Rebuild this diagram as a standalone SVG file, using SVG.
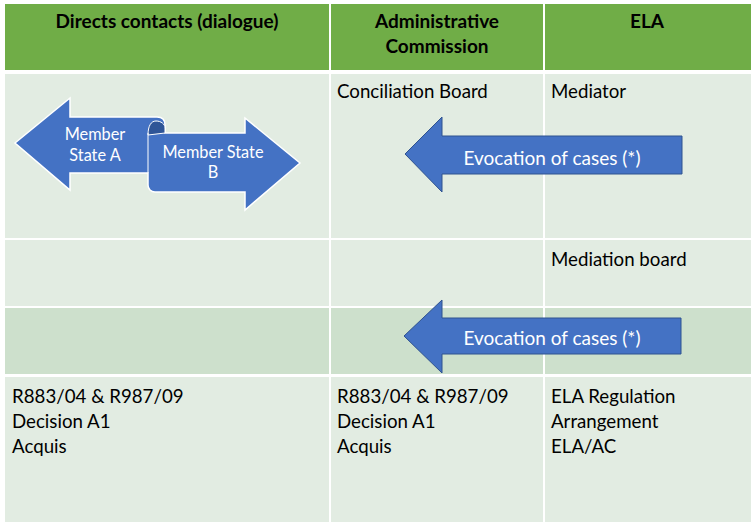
<svg xmlns="http://www.w3.org/2000/svg" width="751" height="522" viewBox="0 0 751 522">
<style>
.hdr{fill:#70AD47}
.lt{fill:#E2ECE2}
.dk{fill:#CDE0CC}
text{font-family:Lato,"Noto Sans",sans-serif;font-size:18.7px;fill:#000}
.b{font-weight:bold;text-anchor:middle;font-size:19px}
.w{fill:#fff;text-anchor:middle}
.ev{font-size:19px}
.ms{font-size:16.3px}
.arrow{fill:#4472C4;stroke:#2F528F;stroke-width:1}
</style>
<rect width="751" height="522" fill="#fff"/>
<g id="table">
<rect class="hdr" x="5" y="4" width="324" height="66"/>
<rect class="hdr" x="331" y="4" width="212" height="66"/>
<rect class="hdr" x="545" y="4" width="206" height="66"/>
<rect class="lt" x="5" y="74" width="324" height="164"/>
<rect class="lt" x="331" y="74" width="212" height="164"/>
<rect class="lt" x="545" y="74" width="206" height="164"/>
<rect class="lt" x="5" y="240" width="324" height="66"/>
<rect class="lt" x="331" y="240" width="212" height="66"/>
<rect class="lt" x="545" y="240" width="206" height="66"/>
<rect class="dk" x="5" y="308" width="324" height="66"/>
<rect class="dk" x="331" y="308" width="212" height="66"/>
<rect class="dk" x="545" y="308" width="206" height="66"/>
<rect class="lt" x="5" y="377" width="324" height="145"/>
<rect class="lt" x="331" y="377" width="212" height="145"/>
<rect class="lt" x="545" y="377" width="206" height="145"/>
</g>
<g id="headers">
<text class="b" x="167" y="28">Directs contacts (dialogue)</text>
<text class="b" x="437" y="28">Administrative</text>
<text class="b" x="437" y="53">Commission</text>
<text class="b" x="647" y="28">ELA</text>
</g>
<g id="cells">
<text x="337" y="98">Conciliation Board</text>
<text x="551" y="98">Mediator</text>
<text x="551" y="266">Mediation board</text>
<text x="12" y="403">R883/04 &amp; R987/09</text>
<text x="12" y="428">Decision A1</text>
<text x="12" y="453">Acquis</text>
<text x="337" y="403">R883/04 &amp; R987/09</text>
<text x="337" y="428">Decision A1</text>
<text x="337" y="453">Acquis</text>
<text x="551" y="403">ELA Regulation</text>
<text x="551" y="428">Arrangement</text>
<text x="551" y="453">ELA/AC</text>
</g>
<g id="ribbon">
<path d="M15,143 L70,98 L70,117 L157,117 C162,117 165,120 165,125 L165,133 L245,133 L245,118 L300,163 L245,210 L245,192 L155,192 C151,192 148,189 148,185 L148,173 L70,173 L70,190 Z" fill="#4472C4" stroke="#fff" stroke-width="1.5"/>
<path d="M148,135 C148,126 151,121 156,121 C161,121 165,124 165,128 L165,133 Z" fill="#2F5597" stroke="#fff" stroke-width="1"/>
<line x1="148" y1="133" x2="148" y2="173" stroke="#fff" stroke-width="1"/>
<text class="w ms" x="95" y="140">Member</text>
<text class="w ms" x="95" y="161">State A</text>
<text class="w ms" x="213" y="158">Member State</text>
<text class="w ms" x="213" y="178">B</text>
</g>
<g id="connectors">
<path class="arrow" d="M405,154 L442,117 L442,136 L682,136 L682,174 L442,174 L442,192 Z"/>
<text class="w ev" x="552" y="165">Evocation of cases (*)</text>
<path class="arrow" d="M404,336 L442,300 L442,318 L681,318 L681,354 L442,354 L442,373 Z"/>
<text class="w ev" x="552" y="345">Evocation of cases (*)</text>
</g>
</svg>
